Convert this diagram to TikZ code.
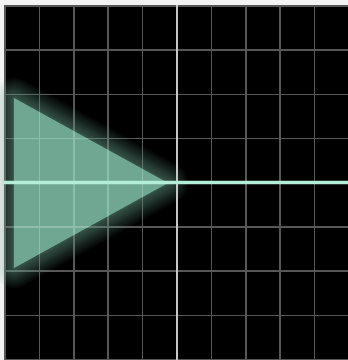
\documentclass[tikz,border=0pt]{standalone}
\begin{document}
\begin{tikzpicture}[x=1pt,y=-1pt,
  gridline/.style={draw=gridgrey,line width=1.6pt},
  glow/.style={draw=mint,line join=round,opacity=0.055}]
\definecolor{mint}{HTML}{6FA793}
\definecolor{gridgrey}{HTML}{575757}
\definecolor{gridmint}{HTML}{8EBDAD}
\definecolor{axisx}{HTML}{B4EED8}
\useasboundingbox (0,0) rectangle (348,360);
\fill[white!95!black] (0,0) rectangle (348,360);
\fill[black] (4,5) rectangle (348,360);
% grid
\foreach \i in {0,...,10}{
  \draw[gridline] ({5+34.4*\i},5) -- ({5+34.4*\i},360);
}
\foreach \j in {0,...,8}{
  \draw[gridline] (4,{5.9+44.2*\j}) -- (348,{5.9+44.2*\j});
}
% triangle glow
\foreach \w in {2,4,6,9,12,15,18,21,24,28,32,36,40}{
  \draw[glow,line width=\w pt] (14,98) -- (14,268) -- (168,183) -- cycle;
}
\fill[mint] (14,98) -- (14,268) -- (168,183) -- cycle;
% grid lines seen through the triangle
\begin{scope}
  \clip (14,98) -- (14,268) -- (168,183) -- cycle;
  \foreach \i in {0,...,10}{
    \draw[gridline,draw=gridmint] ({5+34.4*\i},5) -- ({5+34.4*\i},360);
  }
  \foreach \j in {0,...,8}{
    \draw[gridline,draw=gridmint] (4,{5.9+44.2*\j}) -- (348,{5.9+44.2*\j});
  }
\end{scope}
% axes
\draw[white!78!black,line width=2pt] (177,5) -- (177,360);
\draw[axisx,line width=5pt,opacity=0.25] (4,182.7) -- (348,182.7);
\draw[axisx,line width=2.6pt] (4,182.7) -- (348,182.7);
\end{tikzpicture}
\end{document}
